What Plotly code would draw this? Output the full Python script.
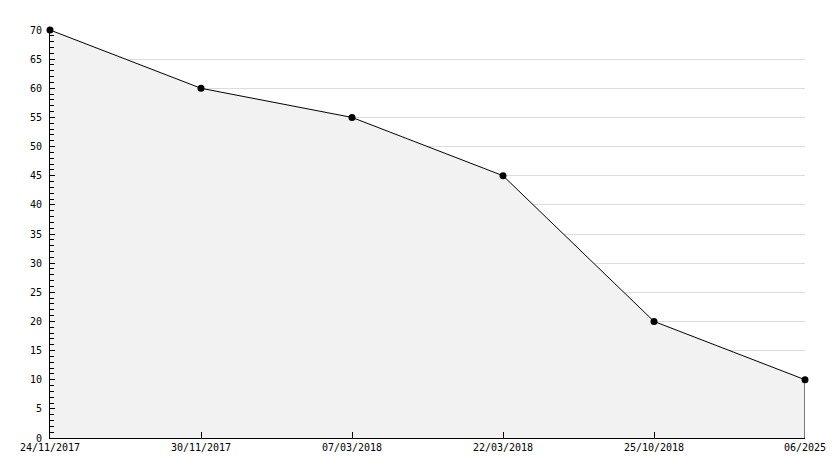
import plotly.graph_objects as go

categories = ["24/11/2017", "30/11/2017", "07/03/2018", "22/03/2018", "25/10/2018", "06/2025"]
values = [70, 60, 55, 45, 20, 10]
y_ticks = list(range(0, 75, 5))

fig = go.Figure()
fig.add_trace(go.Scatter(
    x=categories, y=values, mode="lines+markers",
    fill="tozeroy", fillcolor="#f2f2f2",
    line=dict(color="black", width=1),
    marker=dict(color="black", size=7, symbol="circle"),
    cliponaxis=False,
    hoverinfo="x+y",
))
fig.add_trace(go.Scatter(
    x=[categories[-1], categories[-1]], y=[0, values[-1]], mode="lines",
    line=dict(color="black", width=1), hoverinfo="skip", cliponaxis=False,
))

fig.update_layout(
    width=826, height=460,
    margin=dict(l=42, r=29, t=22, b=30, autoexpand=False),
    paper_bgcolor="white", plot_bgcolor="white",
    showlegend=False,
    font=dict(family="DejaVu Sans Mono", size=10, color="black"),
)
fig.update_xaxes(
    type="category", range=[0, len(categories) - 1],
    showgrid=False, showline=True, linecolor="black", linewidth=1,
    ticks="inside", ticklen=6, tickcolor="black",
    zeroline=False, fixedrange=True, automargin=False,
)
fig.update_yaxes(
    range=[0, 70], tickvals=y_ticks,
    showgrid=True, gridcolor="#dcdcdc", gridwidth=1,
    showline=True, linecolor="black", linewidth=1,
    ticks="inside", ticklen=5, tickcolor="black", ticklabelstandoff=5,
    minor=dict(dtick=1, ticks="inside", ticklen=4, tickcolor="black", showgrid=False),
    zeroline=False, fixedrange=True, automargin=False,
)

fig.write_html("out.html")
